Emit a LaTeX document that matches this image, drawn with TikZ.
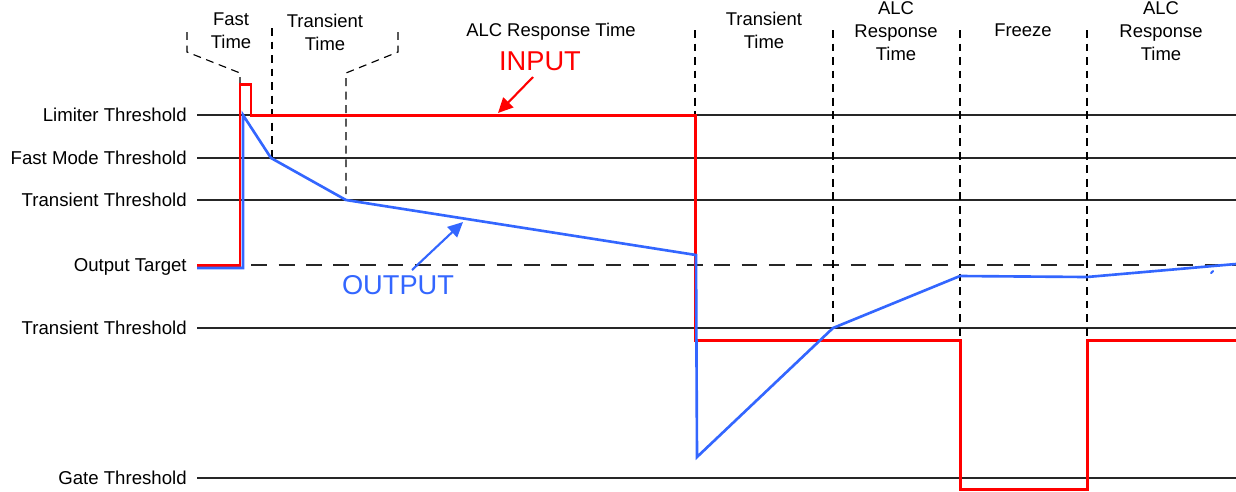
\documentclass[tikz,border=0pt]{standalone}
\usepackage{fontspec}
\setmainfont{Liberation Sans}
\usetikzlibrary{arrows.meta}
\definecolor{sigred}{RGB}{255,0,0}
\definecolor{sigblue}{RGB}{51,102,255}
\tikzset{
  lvlline/.style={line width=0.6pt, black!85},
  guide/.style={line width=0.65pt, black, dash pattern=on 4.5pt off 3.2pt},
  lvl/.style={anchor=base east, inner sep=0pt, yshift=-3.9pt, font=\fontsize{10.6}{13}\selectfont},
  hdr/.style={align=center, inner sep=0pt, font=\fontsize{10.5}{13}\selectfont},
  sigtxt/.style={inner sep=0pt, font=\fontsize{15.5}{18}\selectfont},
  insig/.style={line width=1.7pt, sigred},
  outsig/.style={line width=1.5pt, sigblue},
  pointer/.style={line width=1.2pt, -{Triangle[length=8.5pt, width=8pt]}}
}

\begin{document}
\begin{tikzpicture}[x=0.02cm, y=-0.02cm]
			%%%%% START %%%%%
			\useasboundingbox (0,0) rectangle (1236,491);
			
			\foreach \y/\txt in {115/Limiter Threshold, 158/Fast Mode Threshold, 200/Transient Threshold, 328/Transient Threshold, 478/Gate Threshold}{
				\draw[lvlline] (197,\y) -- (1236,\y);
				\node[lvl] (lvl\y) at (187,\y) {\txt};
			}
			\draw[lvlline, dash pattern=on 9pt off 6.5pt] (197,265) -- (1236,265);
			\node[lvl] (target) at (187,265) {Output Target};
			
			\draw[guide] (187,32) -- (187,52) -- (240,73) -- (240,84);
			\draw[guide] (272,28) -- (272,158);
			\draw[guide] (398,32) -- (398,52) -- (346,73) -- (346,200);
			\foreach \x/\yb in {695/115, 833/328, 960/340, 1087/340}
				\draw[guide] (\x,30) -- (\x,\yb);
			
			\node[hdr] (fast) at (231,31) {Fast\\Time};
			\node[hdr] (trans1) at (325,32) {Transient\\Time};
			\node[hdr] (alc1) at (551,32) {ALC Response Time};
			\node[hdr] (trans2) at (764,30) {Transient\\Time};
			\node[hdr] (alc2) at (896,31) {ALC\\Response\\Time};
			\node[hdr] (freeze) at (1023,30) {Freeze};
			\node[hdr] (alc3) at (1161,31) {ALC\\Response\\Time};
			
			\draw[insig] (197,265) -- (240,265) -- (240,84) -- (251,84) -- (251,115) -- (695,115) -- (695,340) -- (960,340) -- (960,489) -- (1087,489) -- (1087,340) -- (1236,340);
			
			\draw[outsig] (197,268) -- (243,268) -- (243,115) -- (271,158) -- (346,200) -- (696,255) -- (697,457) -- (833,328) -- (960,276) -- (1087,277) -- (1236,264);
			\draw[outsig, line width=1.2pt, line cap=round] (1211,273) -- (1213,271);
			
			\node[sigtxt, text=sigred] (input) at (540,61) {INPUT};
			\coordinate (inFrom) at (533,77);
			\coordinate (inTip) at (498,113);
			\draw[pointer, sigred] (inFrom) -- (inTip);
			
			\node[sigtxt, text=sigblue] (output) at (398,285) {OUTPUT};
			\coordinate (outFrom) at (412,270);
			\coordinate (outTip) at (463,222);
			\draw[pointer, sigblue] (outFrom) -- (outTip);
			%%%%% END %%%%%
\end{tikzpicture}
\end{document}
